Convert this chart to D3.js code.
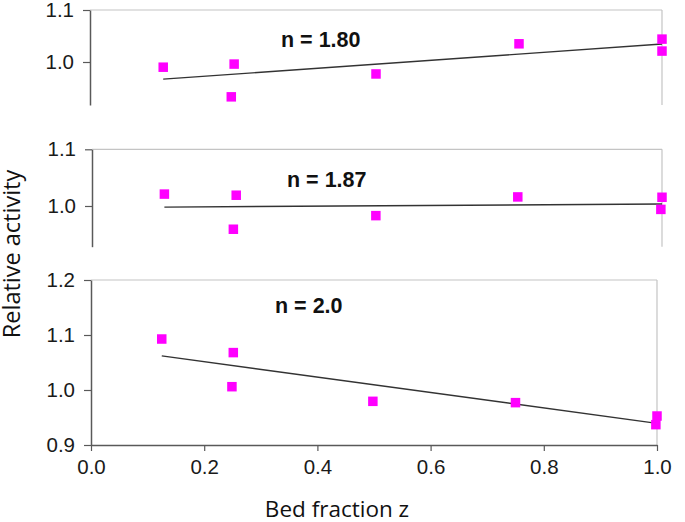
<!DOCTYPE html>
<html>
<head>
<meta charset="utf-8">
<script src="https://cdn.jsdelivr.net/npm/d3@7"></script>
<style>
  html, body { margin: 0; padding: 0; background: #fff; }
  svg { display: block; }
</style>
</head>
<body>
<svg id="chart" width="685" height="522"></svg>
<script>
// ---- data ----
const panelLabels = ["n = 1.80", "n = 1.87", "n = 2.0"];

const xP1 = [0.128, 0.252, 0.247, 0.50, 0.75, 1.0, 1.0];
const yP1 = [0.990, 0.996, 0.933, 0.977, 1.035, 1.044, 1.021];
const fitP1 = [[0.128, 0.967], [1.0, 1.0346]];

const xP2 = [0.127, 0.253, 0.248, 0.498, 0.747, 1.0, 0.998];
const yP2 = [1.021, 1.019, 0.959, 0.983, 1.016, 1.0154, 0.994];
const fitP2 = [[0.127, 0.998], [1.0, 1.0035]];

const xP3 = [0.125, 0.2514, 0.249, 0.498, 0.750, 1.0, 0.998];
const yP3 = [1.0927, 1.068, 1.006, 0.9794, 0.977, 0.9527, 0.937];
const fitP3 = [[0.125, 1.062], [1.0, 0.9394]];

const yTicksP1 = [1.0, 1.1];
const yTicksP2 = [1.0, 1.1];
const yTicksP3 = [0.9, 1.0, 1.1, 1.2];
const xTicks = [0.0, 0.2, 0.4, 0.6, 0.8, 1.0];

const xTitle = "Bed fraction z";
const yTitle = "Relative activity";

// ---- layout ----
const panels = [
  { xs: xP1, ys: yP1, fit: fitP1, ticks: yTicksP1, label: panelLabels[0],
    xr: [90, 662], ydom: [0.9173, 1.1], yr: [105, 10], labelPos: [281, 47], bottomAxis: false },
  { xs: xP2, ys: yP2, fit: fitP2, ticks: yTicksP2, label: panelLabels[1],
    xr: [92, 662], ydom: [0.9282, 1.1], yr: [246.7, 149.3], labelPos: [287, 187], bottomAxis: false },
  { xs: xP3, ys: yP3, fit: fitP3, ticks: yTicksP3, label: panelLabels[2],
    xr: [91, 657], ydom: [0.9, 1.2], yr: [445, 280], labelPos: [275, 313], bottomAxis: true }
];

const svg = d3.select("#chart");
const axisColor = "#595959";
const borderColor = "#c4c4c4";
const tickFont = "'Liberation Sans', Arial, sans-serif";
const titleFont = "'Open Sans', 'Noto Sans', sans-serif";

panels.forEach(p => {
  const x = d3.scaleLinear().domain([0, 1]).range(p.xr);
  const y = d3.scaleLinear().domain(p.ydom).range(p.yr);
  const g = svg.append("g");

  // top and right border
  g.append("line")
    .attr("x1", x(0)).attr("x2", x(1))
    .attr("y1", y(p.ydom[1])).attr("y2", y(p.ydom[1]))
    .attr("stroke", borderColor).attr("stroke-width", 1.2);
  g.append("line")
    .attr("x1", x(1)).attr("x2", x(1))
    .attr("y1", y(p.ydom[1])).attr("y2", y(p.ydom[0]))
    .attr("stroke", borderColor).attr("stroke-width", 1.2);

  // y axis
  const ya = g.append("g")
    .attr("transform", `translate(${x(0)},0)`)
    .call(d3.axisLeft(y).tickValues(p.ticks)
      .tickFormat(d3.format(".1f")).tickSize(7).tickPadding(9).tickSizeOuter(0));
  ya.select(".domain").attr("stroke", axisColor).attr("stroke-width", 1.5);
  ya.selectAll(".tick line").attr("stroke", axisColor).attr("stroke-width", 1.2);
  ya.selectAll(".tick text").attr("fill", "#1a1a1a")
    .style("font-family", tickFont).style("font-size", "20.5px");

  if (p.bottomAxis) {
    const xa = g.append("g")
      .attr("transform", `translate(0,${y(p.ydom[0])})`)
      .call(d3.axisBottom(x).tickValues(xTicks).tickFormat(d3.format(".1f"))
        .tickSize(6).tickPadding(8).tickSizeOuter(0));
    xa.select(".domain").attr("stroke", axisColor).attr("stroke-width", 1.5);
    xa.selectAll(".tick line").attr("stroke", axisColor).attr("stroke-width", 1.2);
    xa.selectAll(".tick text").attr("fill", "#1a1a1a")
      .style("font-family", tickFont).style("font-size", "20.5px");
  }

  // fit line
  g.append("path")
    .datum(p.fit)
    .attr("d", d3.line().x(d => x(d[0])).y(d => y(d[1])))
    .attr("fill", "none").attr("stroke", "#333").attr("stroke-width", 1.4);

  // markers
  const s = 9.5;
  g.selectAll("rect.pt")
    .data(p.xs.map((v, i) => [v, p.ys[i]]))
    .join("rect")
    .attr("class", "pt")
    .attr("x", d => x(d[0]) - s / 2).attr("y", d => y(d[1]) - s / 2)
    .attr("width", s).attr("height", s)
    .attr("fill", "#ff00ff");

  // annotation
  g.append("text")
    .attr("x", p.labelPos[0]).attr("y", p.labelPos[1])
    .text(p.label)
    .style("font-family", tickFont).style("font-weight", "bold").style("font-size", "21.5px")
    .attr("fill", "#111");
});

// axis titles
svg.append("text")
  .attr("x", 337).attr("y", 517)
  .attr("text-anchor", "middle")
  .text(xTitle)
  .style("font-family", titleFont).style("font-size", "22.5px")
  .attr("fill", "#111");

svg.append("text")
  .attr("transform", "translate(20,254) rotate(-90)")
  .attr("text-anchor", "middle")
  .text(yTitle)
  .style("font-family", titleFont).style("font-size", "23.5px")
  .attr("fill", "#111");
</script>
</body>
</html>
